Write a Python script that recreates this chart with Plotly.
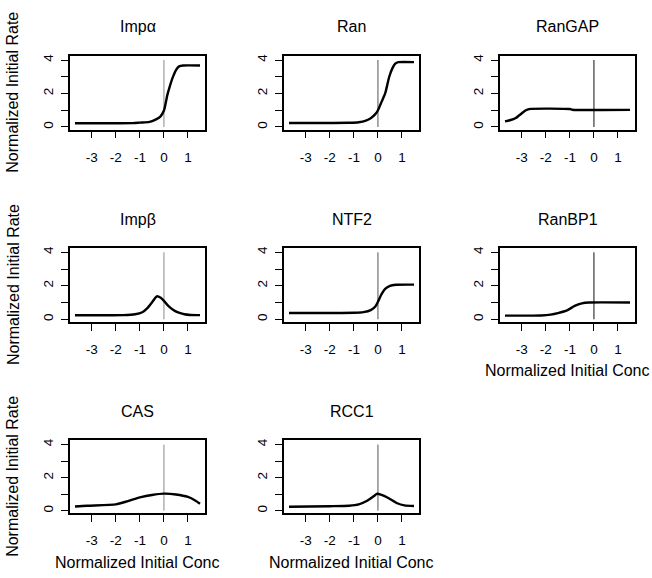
import plotly.graph_objects as go

# ---- data ----
panel_names = ["Impα", "Ran", "RanGAP", "Impβ", "NTF2", "RanBP1", "CAS", "RCC1"]

impa_x = [-3.7, -1.3, -1.0, -0.6, -0.35, -0.15, 0.0, 0.14, 0.25, 0.35, 0.5, 0.63, 0.8, 1.5]
impa_y = [0.22, 0.23, 0.26, 0.30, 0.44, 0.62, 0.98, 1.9, 2.45, 2.9, 3.4, 3.62, 3.67, 3.67]

ran_x = [-3.7, -1.2, -0.8, -0.5, -0.3, -0.1, 0.0, 0.15, 0.3, 0.47, 0.6, 0.72, 0.85, 1.5]
ran_y = [0.24, 0.25, 0.28, 0.38, 0.52, 0.78, 1.0, 1.5, 2.0, 3.0, 3.5, 3.78, 3.87, 3.87]

rangap_x = [-3.7, -3.5, -3.25, -3.0, -2.85, -2.7, -1.0, -0.9, 1.5]
rangap_y = [0.33, 0.40, 0.54, 0.82, 0.98, 1.07, 1.07, 1.03, 1.02]

impb_x = [-3.7, -1.7, -1.2, -0.9, -0.7, -0.5, -0.35, -0.28, -0.15, 0.0, 0.15, 0.3, 0.45, 0.65, 0.85, 1.1, 1.5]
impb_y = [0.24, 0.25, 0.30, 0.42, 0.65, 1.0, 1.3, 1.38, 1.3, 1.1, 0.85, 0.65, 0.5, 0.38, 0.30, 0.26, 0.25]

ntf2_x = [-3.7, -1.0, -0.6, -0.3, -0.1, 0.0, 0.15, 0.3, 0.5, 0.75, 1.5]
ntf2_y = [0.38, 0.39, 0.43, 0.55, 0.78, 1.05, 1.5, 1.82, 2.0, 2.06, 2.07]

ranbp1_x = [-3.7, -2.2, -1.8, -1.5, -1.1, -0.8, -0.5, -0.2, 1.5]
ranbp1_y = [0.22, 0.23, 0.28, 0.37, 0.55, 0.80, 0.95, 1.0, 1.0]

cas_x = [-3.7, -3.2, -2.0, -1.5, -1.0, -0.5, 0.0, 0.5, 1.0, 1.3, 1.5]
cas_y = [0.25, 0.30, 0.38, 0.58, 0.80, 0.95, 1.03, 0.98, 0.83, 0.62, 0.42]

rcc1_x = [-3.7, -2.0, -1.2, -0.8, -0.45, -0.15, -0.05, 0.15, 0.45, 0.8, 1.1, 1.5]
rcc1_y = [0.24, 0.27, 0.30, 0.38, 0.60, 0.90, 1.02, 0.95, 0.75, 0.45, 0.32, 0.28]

curves_x = [impa_x, ran_x, rangap_x, impb_x, ntf2_x, ranbp1_x, cas_x, rcc1_x]
curves_y = [impa_y, ran_y, rangap_y, impb_y, ntf2_y, ranbp1_y, cas_y, rcc1_y]

x_tickvals = [-3, -2, -1, 0, 1]
x_ticktext = ["-3", "-2", "-1", "0", "1"]
y_tickvals = [0, 1, 2, 3, 4]
y_ticktext = ["0", "", "2", "", "4"]

ref_x = [0, 0]
ref_y = [0, 4]

x_title = "Normalized Initial Conc"
y_title = "Normalized Initial Rate"

# ---- layout (pixel geometry) ----
W, H = 652, 578
col_px = [(70, 205), (284, 419), (500, 635)]
row_px = [(54, 128), (247, 321), (440, 513)]
ref_colors = ["#8a8a8a", "#555555", "#111111"]
FONT = "Liberation Sans, Arial, sans-serif"

fig = go.Figure()
layout = dict(
    width=W, height=H,
    margin=dict(l=0, r=0, t=0, b=0),
    paper_bgcolor="white", plot_bgcolor="white",
    showlegend=False,
    font=dict(family=FONT, color="black"),
)
annotations = []

for i, name in enumerate(panel_names):
    r, c = divmod(i, 3)
    x0, x1 = col_px[c]
    y0, y1 = row_px[r]
    xa = "xaxis" if i == 0 else f"xaxis{i+1}"
    ya = "yaxis" if i == 0 else f"yaxis{i+1}"
    xref = "x" if i == 0 else f"x{i+1}"
    yref = "y" if i == 0 else f"y{i+1}"

    fig.add_trace(go.Scatter(x=ref_x, y=ref_y, mode="lines", xaxis=xref, yaxis=yref,
                             line=dict(color=ref_colors[c], width=1), hoverinfo="skip"))
    fig.add_trace(go.Scatter(x=curves_x[i], y=curves_y[i], mode="lines", xaxis=xref, yaxis=yref,
                             line=dict(color="black", width=2.4, shape="spline", smoothing=0.6)))

    common = dict(showline=True, mirror=True, linecolor="black", linewidth=1.7,
                  ticks="outside", ticklen=7, tickwidth=1.4, tickcolor="black",
                  showgrid=False, zeroline=False,
                  tickfont=dict(family=FONT, size=13.5, color="black"))
    layout[xa] = dict(common, domain=[x0 / W, x1 / W], anchor=yref,
                      range=[-3.908, 1.708], tickmode="array",
                      tickvals=x_tickvals, ticktext=x_ticktext, ticklabelstandoff=7)
    layout[ya] = dict(common, domain=[1 - y1 / H, 1 - y0 / H], anchor=xref,
                      range=[-0.155, 4.25], tickmode="array",
                      tickvals=y_tickvals, ticktext=y_ticktext, tickangle=-90,
                      ticklabelstandoff=3)

    # panel title
    annotations.append(dict(text=name, x=(x0 + x1) / 2 / W, y=1 - (y0 - 29) / H,
                            xref="paper", yref="paper", showarrow=False,
                            xanchor="center", yanchor="middle",
                            font=dict(family=FONT, size=16, color="black")))
    # y-axis title on first column
    if c == 0:
        annotations.append(dict(text=y_title, x=13 / W, y=1 - (y0 + y1) / 2 / H,
                                xref="paper", yref="paper", showarrow=False, textangle=-90,
                                xanchor="center", yanchor="middle",
                                font=dict(family=FONT, size=16, color="black")))
    # x-axis title on bottom-most panel of each column
    if (r == 2) or (r == 1 and c == 2):
        annotations.append(dict(text=x_title, x=(x0 + x1) / 2 / W, y=1 - (y1 + 49) / H,
                                xref="paper", yref="paper", showarrow=False,
                                xanchor="center", yanchor="middle",
                                font=dict(family=FONT, size=16, color="black")))

layout["annotations"] = annotations
fig.update_layout(**layout)
fig.write_html("out.html", config={"displayModeBar": False},
               post_script="document.body.style.margin='0';document.body.style.padding='0';")
